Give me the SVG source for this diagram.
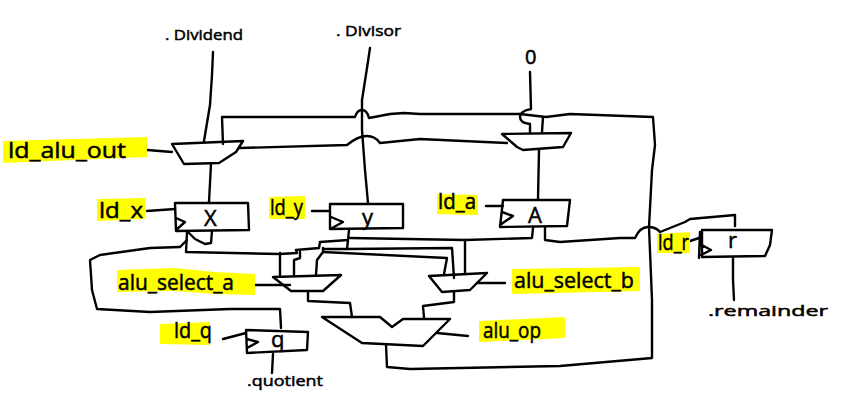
<svg xmlns="http://www.w3.org/2000/svg" width="846" height="409" viewBox="0 0 846 409">
<style>
.s{fill:none;stroke:#000;stroke-width:2.4;stroke-linejoin:round;stroke-linecap:round}
.h{fill:#ffff00;stroke:none}
text{font-family:"Open Sans","Liberation Sans",sans-serif;fill:#000;stroke:#000;stroke-width:.5}
.l{font-size:22px}
.t{font-size:15px}
</style>
<rect width="846" height="409" fill="#fff"/>
<g id="connectors" class="s">
<path d="M213 52L212 75L210 105L204 141"/>
<path d="M370 48L367 68L362 100"/>
<path d="M362 100L362 130L365 170L368 203"/>
<path d="M223 144L222 117L355 117Q357 110 362 110Q367 110 369 118L390 114L404 113L420 114L520 114"/>
<path d="M530 72L531 109Q520 111 520 117Q520 123 530 124L530 133"/>
<path d="M520 114L546 117L570 114L653 117L655 145L652 170L649 227L652 300L652 358L560 366L410 369L387 367L386 345"/>
<path d="M543 117L542 132"/>
<path d="M240 148L347 145Q358 136 367 136Q375 136 380 143L420 139L463 141L507 143"/>
<path d="M211 164L209 202"/>
<path d="M539 150L538 199"/>
<path d="M135 149L172 152"/>
<path d="M147 211L175 209"/>
<path d="M312 211L330 211"/>
<path d="M486 206L503 206"/>
<path d="M212 231L211 243L205 244L195 239L188 232"/>
<path d="M187 232L186 252L280 254L297 253L296 250L319 248L320 242L348 240L349 230"/>
<path d="M180 247L187 240"/>
<path d="M180 247L150 248L100 255L90 260L92 290L97 309L150 312L230 309L280 309L281 328"/>
<path d="M280 253L280 275"/>
<path d="M294 275L294 260L300 258L300 252"/>
<path d="M316 275L317 260L323 252L323 248"/>
<path d="M348 240L347 249L323 249"/>
<path d="M323 252L447 258L444 274"/>
<path d="M347 249L452 248L454 278"/>
<path d="M350 238L465 240L532 238L533 228"/>
<path d="M465 240L465 274"/>
<path d="M545 227L545 240L560 242L620 238L635 238Q640 227 648 227Q656 227 660 232L685 222L690 219L735 215L735 226"/>
<path d="M308 292L308 301L350 303L352 317"/>
<path d="M454 292L454 302L423 306L424 318"/>
<path d="M249 285L290 285"/>
<path d="M477 283L505 283"/>
<path d="M437 333L468 336"/>
<path d="M223 339L246 333"/>
<path d="M273 354L272 373"/>
<path d="M690 241L699 238"/>
<path d="M733 257L733 280L734 300"/>
</g>
<g id="label-ld-alu-out"><path class="h" d="M3 141L147 137L147 157L3 163Z"/><text class="l" x="8" y="158" textLength="118" lengthAdjust="spacingAndGlyphs">ld_alu_out</text></g>
<g id="label-ld-x"><path class="h" d="M97 199L145 198L145 219L97 221Z"/><text class="l" x="99" y="218" textLength="44" lengthAdjust="spacingAndGlyphs">ld_x</text></g>
<g id="label-ld-y"><path class="h" d="M269 197L305 196L305 219L269 219Z"/><text class="l" x="270" y="215" textLength="33" lengthAdjust="spacingAndGlyphs">ld_y</text></g>
<g id="label-ld-a"><path class="h" d="M437 194L478 195L478 215L437 214Z"/><text class="l" x="438" y="209" textLength="38" lengthAdjust="spacingAndGlyphs">ld_a</text></g>
<g id="label-ld-r"><path class="h" d="M657 234L690 232L690 253L657 253Z"/><text class="l" x="658" y="250" textLength="31" lengthAdjust="spacingAndGlyphs">ld_r</text></g>
<g id="label-alu-select-a"><path class="h" d="M117 270L175 268L215 272L255 274L255 295L215 294L175 291L117 292Z"/><text class="l" x="118" y="290" textLength="116" lengthAdjust="spacingAndGlyphs">alu_select_a</text></g>
<g id="label-alu-select-b"><path class="h" d="M512 269L640 267L640 291L512 294Z"/><text class="l" x="514" y="288" textLength="120" lengthAdjust="spacingAndGlyphs">alu_select_b</text></g>
<g id="label-ld-q"><path class="h" d="M160 324L210 322L210 345L160 344Z"/><text class="l" x="174" y="338" textLength="38" lengthAdjust="spacingAndGlyphs">ld_q</text></g>
<g id="label-alu-op"><path class="h" d="M479 321L565 317L565 338L479 342Z"/><text class="l" x="483" y="338" textLength="58" lengthAdjust="spacingAndGlyphs">alu_op</text></g>
<g id="input-dividend"><text class="t" x="165" y="40" textLength="78" lengthAdjust="spacingAndGlyphs">. Dividend</text></g>
<g id="input-divisor"><text class="t" x="336" y="36" textLength="65" lengthAdjust="spacingAndGlyphs">. Divisor</text></g>
<g id="input-zero"><text x="525" y="64" font-size="20" style="stroke-width:.6">0</text></g>
<g id="mux-x"><path class="s" d="M172 144L243 141L236 152L219 163L184 164Z"/></g>
<g id="mux-a"><path class="s" d="M502 134L571 133L563 147L523 150L517 147Z"/></g>
<g id="reg-x"><path class="s" d="M175 203L248 203L249 230L176 231ZM176 218L185 222L176 230"/><text class="l" x="204" y="226">X</text></g>
<g id="reg-y"><path class="s" d="M330 204L403 204L403 228L330 229ZM331 217L343 222L332 228"/><text class="l" x="362" y="225">y</text></g>
<g id="reg-a"><path class="s" d="M503 200L570 200L567 226L500 227ZM502 212L513 216L500 225"/><text class="l" x="528" y="223">A</text></g>
<g id="reg-r"><path class="s" d="M702 230L772 230L770 245L765 256L702 257ZM700 232L699 258M700 244L711 250L701 255"/><text class="l" x="728" y="248">r</text></g>
<g id="reg-q"><path class="s" d="M246 330L308 332L307 350L247 353ZM247 339L258 342L247 348"/><text class="l" x="271" y="347">q</text></g>
<g id="mux-alu-a"><path class="s" d="M273 277L341 275L323 291L291 291Z"/></g>
<g id="mux-alu-b"><path class="s" d="M429 276L487 273L470 290L442 292Z"/></g>
<g id="alu"><path class="s" d="M322 317L380 317L392 327L403 319L450 319L423 346L362 343Z"/></g>
<g id="output-quotient"><text class="t" x="247" y="386" textLength="76" lengthAdjust="spacingAndGlyphs">.quotient</text></g>
<g id="output-remainder"><text class="t" x="708" y="316" textLength="120" lengthAdjust="spacingAndGlyphs">.remainder</text></g>
</svg>
